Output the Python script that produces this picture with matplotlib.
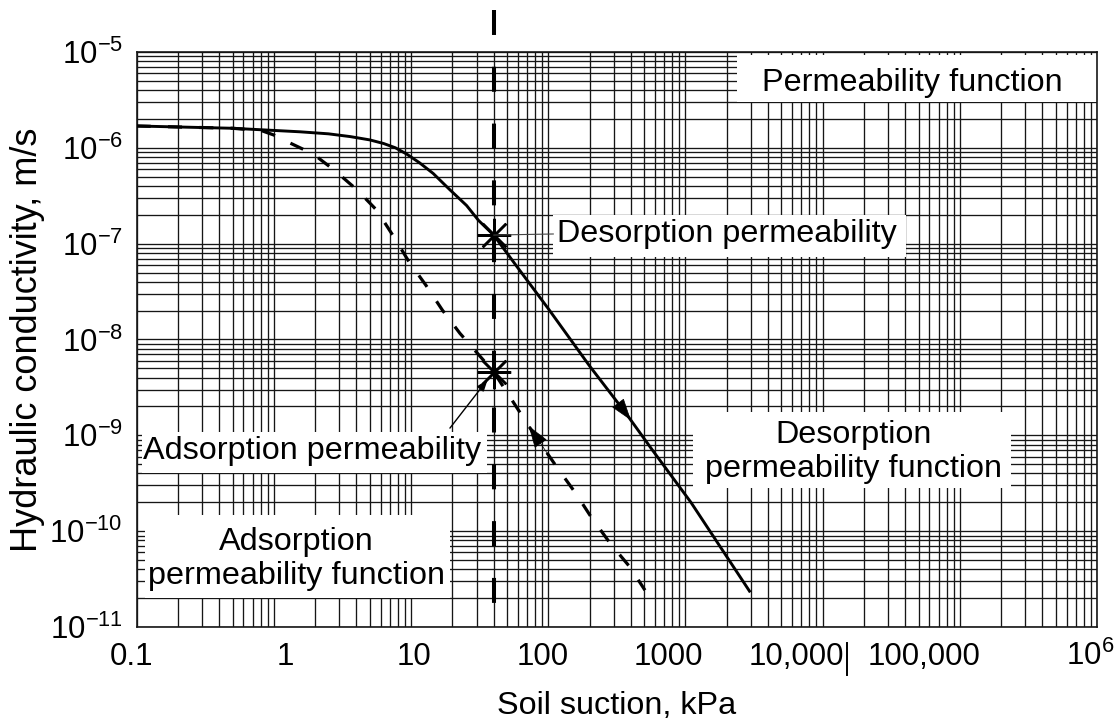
import numpy as np
import matplotlib
matplotlib.use("Agg")
import matplotlib.pyplot as plt
from matplotlib.patches import Rectangle
from matplotlib.lines import Line2D
from matplotlib.transforms import ScaledTranslation
from matplotlib.ticker import FixedLocator, NullFormatter, LogLocator

plt.rcParams['font.family'] = ['Liberation Sans', 'DejaVu Sans']
plt.rcParams['mathtext.fontset'] = 'custom'
plt.rcParams['mathtext.rm'] = 'Liberation Sans'
plt.rcParams['mathtext.it'] = 'Liberation Sans:italic'
plt.rcParams['mathtext.bf'] = 'Liberation Sans:bold'
plt.rcParams['mathtext.default'] = 'rm'

# ---------------- data ----------------
desorption_suction = [0.1, 0.5, 1.55, 2.5, 3.6, 5.0, 6.3, 7.7, 9.3, 11.5, 14.5, 19, 25.4, 31, 40,
                      60, 100, 200, 368, 575, 1096, 2970]
desorption_k = [1.69e-6, 1.60e-6, 1.47e-6, 1.40e-6, 1.31e-6, 1.21e-6, 1.11e-6, 1.0e-6, 8.6e-7,
                7.0e-7, 5.4e-7, 3.7e-7, 2.5e-7, 1.75e-7, 1.23e-7,
                5.6e-8, 2.1e-8, 5.3e-9, 1.7e-9, 7.0e-10, 2.0e-10, 2.3e-11]

adsorption_suction = [0.1, 0.5, 0.815, 1.0, 1.25, 1.94, 2.79, 4.05, 5.61, 7.34, 9.66, 12.8, 16.9,
                      22.7, 40, 78, 115, 159, 205, 284, 392, 507]
adsorption_k = [1.69e-6, 1.60e-6, 1.51e-6, 1.36e-6, 1.16e-6, 8.6e-7, 5.77e-7, 3.63e-7, 2.24e-7,
                1.23e-7, 6.47e-8, 3.7e-8, 2.03e-8, 1.16e-8, 4.6e-9, 1.05e-9, 4.7e-10, 2.47e-10,
                1.41e-10, 7.4e-11, 4.26e-11, 2.42e-11]

reference_suction = 40                      # vertical dashed line, kPa
marker_suction = [40, 40]                   # asterisk points
marker_k = [1.23e-7, 4.6e-9]

x_ticks = [0.1, 1, 10, 100, 1000, 1e4, 1e5, 1e6]
x_ticklabels = ['0.1', '1', '10', '100', '1000', '10,000', '100,000', r'$10^{6}$']
y_ticks = [1e-11, 1e-10, 1e-9, 1e-8, 1e-7, 1e-6, 1e-5]
y_ticklabels = [r'$10^{-11}$', r'$10^{-10}$', r'$10^{-9}$', r'$10^{-8}$',
                r'$10^{-7}$', r'$10^{-6}$', r'$10^{-5}$']

# ---------------- figure ----------------
fig = plt.figure(figsize=(11.2, 7.23), dpi=100)
ax = fig.add_axes([0.12205, 0.13278, 0.85741, 0.79530])
ax.set_xscale('log')
ax.set_yscale('log')
ax.set_xlim(0.1, 1e6)
ax.set_ylim(1e-11, 1e-5)

ax.set_axisbelow(True)
ax.xaxis.set_major_locator(FixedLocator(x_ticks))
ax.yaxis.set_major_locator(FixedLocator(y_ticks))
ax.xaxis.set_minor_locator(LogLocator(base=10, subs=np.arange(2, 10), numticks=50))
ax.yaxis.set_minor_locator(LogLocator(base=10, subs=np.arange(2, 10), numticks=50))
ax.xaxis.set_minor_formatter(NullFormatter())
ax.yaxis.set_minor_formatter(NullFormatter())
ax.set_xticklabels(x_ticklabels)
ax.set_yticklabels(y_ticklabels)
ax.grid(True, which='both', color='#161616', lw=0.95)
ax.tick_params(which='both', length=0)
ax.tick_params(axis='x', labelsize=22.5, pad=27.4)
ax.tick_params(axis='y', labelsize=22.5, pad=10)
for sp in ax.spines.values():
    sp.set_linewidth(1.2)
    sp.set_color('#161616')

# label background boxes (axes fraction)
label_boxes = [((0.625, 0.913), 0.375, 0.082),
               ((0.434, 0.643), 0.367, 0.074),
               ((0.0056, 0.268), 0.3594, 0.071),
               ((0.5793, 0.2417), 0.3312, 0.1323),
               ((0.009, 0.05), 0.317, 0.145)]
for (x0, y0), w, h in label_boxes:
    ax.add_patch(Rectangle((x0, y0), w, h, transform=ax.transAxes,
                           facecolor='white', edgecolor='none', zorder=1))

# curves
ax.plot(desorption_suction, desorption_k, color='black', lw=2.1, zorder=3,
        solid_capstyle='butt', solid_joinstyle='round')
ax.plot(adsorption_suction, adsorption_k, color='black', lw=2.3, zorder=3,
        linestyle=(0, (4.4, 5.4)), dash_capstyle='butt')

# vertical reference line extending above the axes
ax.plot([reference_suction, reference_suction], [1.073, 0.0],
        transform=ax.get_xaxis_transform(), clip_on=False, color='black',
        lw=2.9, linestyle=(0, (6.2, 7.9)), dash_capstyle='butt', zorder=3)

# asterisks
ax.plot(marker_suction, marker_k, linestyle='none', marker=(8, 2, 0),
        markersize=24, markeredgewidth=1.8, color='black', zorder=4)


def on_curve(xs, ks, x):
    return 10 ** np.interp(np.log10(x), np.log10(xs), np.log10(ks))


head = '-|>,head_length=0.9,head_width=0.3'
ax.annotate('', xy=(400, on_curve(desorption_suction, desorption_k, 400)),
            xytext=(300, on_curve(desorption_suction, desorption_k, 300)),
            arrowprops=dict(arrowstyle=head, mutation_scale=16, lw=0.5,
                            color='black', shrinkA=0, shrinkB=0), zorder=4)
ax.annotate('', xy=(72, on_curve(adsorption_suction, adsorption_k, 72)),
            xytext=(100, on_curve(adsorption_suction, adsorption_k, 100)),
            arrowprops=dict(arrowstyle=head, mutation_scale=16, lw=0.5,
                            color='black', shrinkA=0, shrinkB=0), zorder=4)

tfs = 23.3
ax.text(0.808, 0.946, 'Permeability function', transform=ax.transAxes,
        ha='center', va='center', fontsize=tfs, zorder=5)
ax.text(0.438, 0.6835, 'Desorption permeability', transform=ax.transAxes,
        ha='left', va='center', fontsize=tfs, zorder=5)
ax.text(0.183, 0.306, 'Adsorption permeability', transform=ax.transAxes,
        ha='center', va='center', fontsize=tfs, zorder=5)
ax.text(0.746, 0.304, 'Desorption\npermeability function', transform=ax.transAxes,
        ha='center', va='center', fontsize=tfs, linespacing=1.2,
        multialignment='center', zorder=5)
ax.text(0.166, 0.118, 'Adsorption\npermeability function', transform=ax.transAxes,
        ha='center', va='center', fontsize=tfs, linespacing=1.2,
        multialignment='center', zorder=5)

# leader lines
ax.annotate('', xy=(marker_suction[0], marker_k[0]), xycoords='data',
            xytext=(0.434, 0.6835), textcoords='axes fraction',
            arrowprops=dict(arrowstyle='-', lw=0.8, color='#444444',
                            shrinkA=0, shrinkB=0), zorder=4)
ax.annotate('', xy=(marker_suction[1], marker_k[1]), xycoords='data',
            xytext=(19.2, 1.19e-9), textcoords='data',
            arrowprops=dict(arrowstyle='-|>,head_length=0.5,head_width=0.18',
                            mutation_scale=14, lw=1.0, color='black',
                            shrinkA=0, shrinkB=7), zorder=4)

# axis labels
ax.set_xlabel('Soil suction, kPa', fontsize=tfs, va='top')
ax.xaxis.set_label_coords(0.5, -0.111)
ax.set_ylabel('Hydraulic conductivity, m/s', fontsize=26)
ax.yaxis.set_label_coords(-0.0955, 0.5)

# x tick label shifts (as placed in the reference) and baseline alignment
x_label_shift_px = [-5, 11, 2.5, -6, -17.5, -26, -36, -7]
for lab, dx in zip(ax.get_xticklabels(), x_label_shift_px):
    lab.set_va('baseline')
    lab.set_transform(lab.get_transform() + ScaledTranslation(dx / 100.0, 0, fig.dpi_scale_trans))

# stray bar after "10,000" in the reference
fig.add_artist(Line2D([847 / 1120, 847 / 1120], [1 - 675 / 723, 1 - 643 / 723],
                      transform=fig.transFigure, color='black', lw=1.4))

fig.savefig('out.png', dpi=100)
